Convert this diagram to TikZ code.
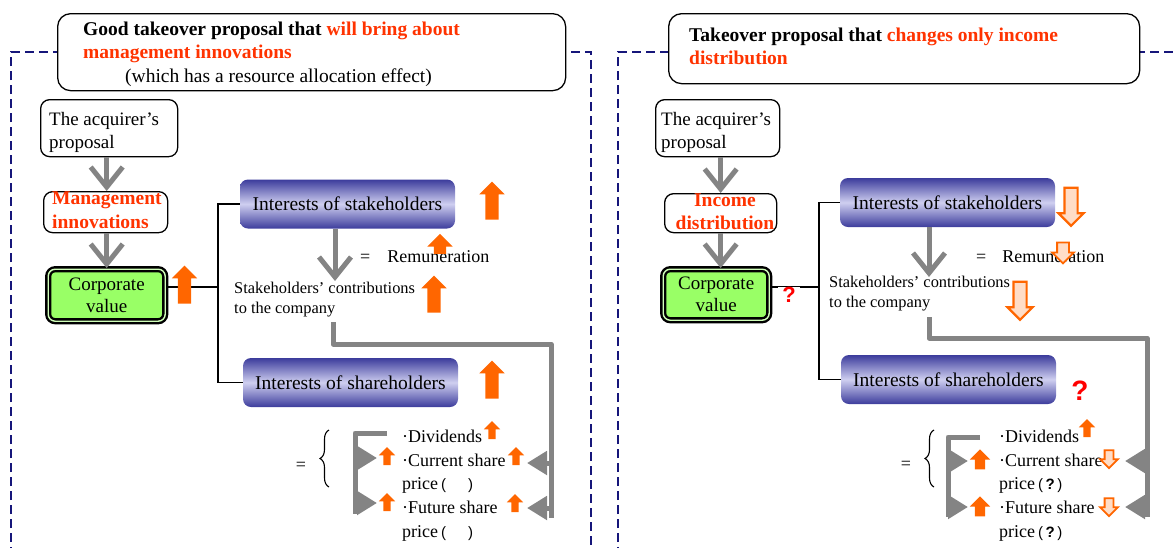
\documentclass[tikz,border=0pt]{standalone}
\usepackage{fontspec}
\setmainfont{Liberation Serif}
\newfontfamily\qfont{Liberation Sans}
\usepackage{xcolor}
\usetikzlibrary{arrows.meta, positioning, shapes.arrows, decorations.pathreplacing}

\definecolor{hiorange}{HTML}{FF6600}
\definecolor{hired}{HTML}{FF3300}
\definecolor{qred}{HTML}{FF0000}
\definecolor{framenavy}{HTML}{16167A}
\definecolor{valgreen}{HTML}{99FF66}
\definecolor{intdark}{HTML}{3C3C9C}
\definecolor{intlight}{HTML}{CFCFF0}
\definecolor{flowgray}{HTML}{848484}

\begin{document}
\begin{tikzpicture}[x=1pt, y=-1pt,
        frame/.style={draw=framenavy, line width=1.8pt, dash pattern=on 9pt off 5pt},
        headbox/.style={draw=black, line width=1.3pt, fill=white, rounded corners=13pt, anchor=north west},
        headtext/.style={align=left, inner sep=0pt, anchor=north west, font=\fontsize{19.5}{23.5}\selectfont\bfseries},
        propbox/.style={draw=black, line width=1.3pt, fill=white, rounded corners=9pt, anchor=north west},
        proptext/.style={align=left, inner sep=0pt, anchor=north west, font=\fontsize{19}{23}\selectfont},
        changetext/.style={proptext, text=hired, font=\fontsize{19.5}{24}\selectfont\bfseries},
        valuebox/.style={draw=black, line width=2.4pt, double=valgreen!45, double distance=1.4pt,
                         fill=valgreen, rounded corners=7pt, align=center, inner sep=0pt, anchor=north west,
                         font=\fontsize{19}{22}\selectfont},
        intbox/.style={rounded corners=8pt, top color=intdark, bottom color=intdark, middle color=intlight,
                       minimum width=215pt, minimum height=49pt, font=\fontsize{19.5}{22}\selectfont},
        bodytext/.style={align=left, inner sep=0pt, font=\fontsize{18}{23}\selectfont},
        smalltext/.style={align=left, inner sep=0pt, anchor=north west, font=\fontsize{16.4}{20}\selectfont},
        listtext/.style={align=left, inner sep=0pt, anchor=north west, font=\fontsize{18}{23.7}\selectfont},
        wire/.style={draw=black, line width=1.4pt},
        flow/.style={draw=flowgray, line width=5pt, -{Straight Barb[length=20pt, width=32pt]}},
        pipe/.style={draw=flowgray, line width=5pt, line join=round},
        pipehead/.style={draw=flowgray, line width=5pt, -{Triangle[length=20pt, width=23pt]}},
        orarrow/.style={single arrow, inner xsep=0pt, single arrow tip angle=90},
        bigup/.style={orarrow, fill=hiorange, rotate=90, minimum height=38pt, inner ysep=6.5pt,
                      single arrow head extend=6pt},
        midup/.style={bigup, minimum height=20pt, inner ysep=5pt, single arrow head extend=5pt},
        smallup/.style={bigup, minimum height=18pt, inner ysep=3.5pt, single arrow head extend=4.5pt},
        bigdown/.style={orarrow, draw=hiorange, line width=2.2pt, fill=hiorange!22, rotate=-90,
                        minimum height=38pt, inner ysep=5.5pt, single arrow head extend=6pt},
        smalldown/.style={bigdown, line width=1.8pt, minimum height=18pt, inner ysep=3.5pt,
                          single arrow head extend=4.5pt},
        qmark/.style={text=qred, inner sep=0pt, font=\qfont\fontsize{22}{22}\selectfont\bfseries},
        pargap/.style={},
        bracetip/.style={line width=1.1pt, decorate, decoration={brace, amplitude=9pt}}
    ]
    \useasboundingbox (0,0) rectangle (1175,547);
    \clip (0,0) rectangle (1175,547);

    % left panel: management innovations
    \draw[frame] (11,570) -- (11,52) -- (591,52) -- (591,570);
    \node[headbox, minimum width=508pt, minimum height=77pt] (lhead) at (57,13) {};
    \node[headtext] (lheadtxt) at (83,21.5)
        {Good takeover proposal that \textcolor{hired}{will bring about}\\
         \textcolor{hired}{management innovations}\\
         {\mdseries\hspace*{42pt}(which has a resource allocation effect)}};

    \node[propbox, minimum width=137pt, minimum height=57pt] (lacq) at (40,99) {};
    \node[proptext] (lacqtxt) at (49,112) {The acquirer's\\proposal};
    \node[propbox, minimum width=124pt, minimum height=41pt] (lchange) at (43,191) {};
    \node[changetext] (lchangetxt) at (52,191.6) {Management\\innovations};
    \node[valuebox, minimum width=117pt, minimum height=52pt] (lval) at (47,268) {Corporate\\value};
    \draw[flow] (lacq.south -| lval.north) -- (lchange.north -| lval.north);
    \draw[flow] (lchange.south -| lval.north) -- (lval.north);

    \coordinate (lsplit) at (218,287);
    \node[intbox] (lstake) at (347.5,204) {Interests of stakeholders};
    \node[intbox] (lshare) at (350.5,382.5) {Interests of shareholders};
    \draw[wire] (lval.east |- lsplit) -- (lsplit);
    \draw[wire] (lstake.west) -| (lsplit) |- (lshare.west);
    \node[bigup] (lvalup) at (184.5,288) {};
    \node[bigup] (lstakeup) at (492,204) {};
    \node[bigup] (lshareup) at (492,383) {};

    \node[smalltext] (lcontrib) at (234,281.7) {Stakeholders' contributions\\to the company};
    \coordinate (lstakedown) at (335,281);
    \draw[flow] (lstake.south -| lstakedown) -- (lstakedown);
    \node[bodytext, anchor=base west] (lremun) at (360,262) {=\hspace{17pt}Remuneration};
    \node[bigup, minimum height=20pt, inner ysep=6pt, single arrow head extend=6.5pt] (lremunup) at (440,247) {};
    \node[bigup, minimum height=37pt] (lcontribup) at (434,297.5) {};

    \coordinate (lpipetop) at (333,322);
    \coordinate (lpipecorner) at (551,344);
    \coordinate (lpipeend) at (551,518);
    \draw[pipe] (lpipetop) |- (lpipecorner) -- (lpipeend);
    \coordinate (lcurtip) at (527,463);
    \coordinate (lfuttip) at (527,508);
    \draw[pipehead] (lcurtip -| lpipeend) -- (lcurtip);
    \draw[pipehead] (lfuttip -| lpipeend) -- (lfuttip);

    \node[bodytext] (leq) at (301,466) {=};
    \draw[bracetip] (329,487) -- (329,430);
    \coordinate (lbrtop) at (387,433);
    \coordinate (lbrbot) at (355,514);
    \draw[pipe] (lbrtop) -| (lbrbot);
    \coordinate (lcurin) at (377,458);
    \coordinate (lfutin) at (377,503);
    \draw[pipehead] (lcurin -| lbrbot) -- (lcurin);
    \draw[pipehead] (lfutin -| lbrbot) -- (lfutin);

    \node[listtext] (llist) at (402,429.6)
        {·Dividends\\·Current share\\price\,{\qfont\fontsize{15}{15}\selectfont(\hspace{22pt})}\\
         ·Future share\\price\,{\qfont\fontsize{15}{15}\selectfont(\hspace{22pt})}};
    \node[smallup] (ldivup) at (492,432) {};
    \node[smallup] (lcurup) at (516,458) {};
    \node[smallup] (lfutup) at (515,505) {};
    \node[smallup] (lcurinup) at (387,458) {};
    \node[smallup] (lfutinup) at (387,504) {};

    % right panel: income distribution only
    \draw[frame] (618,570) -- (618,52) -- (1185,52);
    \node[headbox, minimum width=471pt, minimum height=70pt] (rhead) at (668,13) {};
    \node[headtext] (rheadtxt) at (689,27.6)
        {Takeover proposal that \textcolor{hired}{changes only income}\\
         \textcolor{hired}{distribution}};

    \node[propbox, minimum width=124pt, minimum height=57pt] (racq) at (655,99) {};
    \node[proptext] (racqtxt) at (661,112) {The acquirer's\\proposal};
    \node[propbox, minimum width=112pt, minimum height=39pt] (rchange) at (664,193) {};
    \node[changetext, align=center, anchor=north, font=\fontsize{19.5}{23}\selectfont\bfseries] (rchangetxt) at (725,193.6)
        {Income\\distribution};
    \node[valuebox, minimum width=106pt, minimum height=51pt] (rval) at (662,268) {Corporate\\value};
    \draw[flow] (racq.south -| rchange.north) -- (rchange.north);
    \draw[flow] (rchange.south) -- (rval.north -| rchange.south);

    \coordinate (rsplit) at (819,287);
    \node[intbox] (rstake) at (947.5,202.5) {Interests of stakeholders};
    \node[intbox] (rshare) at (948.5,379.5) {Interests of shareholders};
    \draw[wire] (rval.east |- rsplit) -- (rsplit);
    \draw[wire] (rstake.west) -| (rsplit) |- (rshare.west);
    \node[qmark, fill=white, inner xsep=4pt] (rvalq) at (789,295) {?};
    \node[bigdown] (rstakedn) at (1071,203.5) {};
    \node[qmark, font=\qfont\fontsize{28}{28}\selectfont\bfseries] (rshareq) at (1080,390.5) {?};

    \node[smalltext] (rcontrib) at (829,275.7) {Stakeholders' contributions\\to the company};
    \coordinate (rstakedown) at (929,277);
    \draw[flow] (rstake.south -| rstakedown) -- (rstakedown);
    \node[bodytext, anchor=base west] (rremun) at (976,262) {=\hspace{16pt}Remuneration};
    \node[smalldown, minimum height=21pt, inner ysep=5pt, single arrow head extend=5pt] (rremundn) at (1063,250) {};
    \node[bigdown] (rcontribdn) at (1020,297.5) {};

    \coordinate (rpipetop) at (929,317);
    \coordinate (rpipecorner) at (1147,338);
    \coordinate (rpipeend) at (1147,517);
    \draw[pipe] (rpipetop) |- (rpipecorner) -- (rpipeend);
    \coordinate (rcurtip) at (1125,461);
    \coordinate (rfuttip) at (1125,507);
    \draw[pipehead] (rcurtip -| rpipeend) -- (rcurtip);
    \draw[pipehead] (rfuttip -| rpipeend) -- (rfuttip);

    \node[bodytext] (req) at (906,465) {=};
    \draw[bracetip] (934,487) -- (934,430);
    \coordinate (rbrtop) at (980,437);
    \coordinate (rbrbot) at (948,517);
    \draw[pipe] (rbrtop) -| (rbrbot);
    \coordinate (rcurin) at (968,461);
    \coordinate (rfutin) at (968,507);
    \draw[pipehead] (rcurin -| rbrbot) -- (rcurin);
    \draw[pipehead] (rfutin -| rbrbot) -- (rfutin);

    \node[listtext] (rlist) at (999,429.6)
        {·Dividends\\·Current share\\price\,{\qfont\fontsize{15}{15}\selectfont(\,\textbf{?}\,)}\\
         ·Future share\\price\,{\qfont\fontsize{15}{15}\selectfont(\,\textbf{?}\,)}};
    \node[smallup] (rdivup) at (1087,430) {};
    \node[smalldown] (rcurdn) at (1109,457) {};
    \node[smalldown] (rfutdn) at (1109,505) {};
    \node[midup] (rcurinup) at (980,462) {};
    \node[midup] (rfutinup) at (980,509) {};
\end{tikzpicture}
\end{document}
